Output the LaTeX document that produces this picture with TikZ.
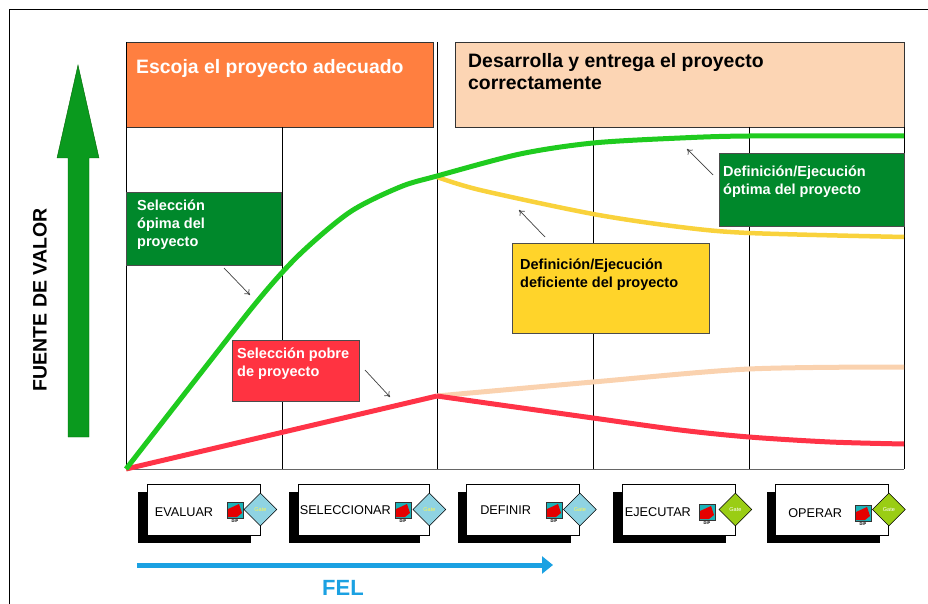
\documentclass[tikz,border=0pt]{standalone}
\usepackage{fontspec}
\setmainfont{Liberation Sans}
\usetikzlibrary{shapes.geometric,shadows,arrows.meta}
\definecolor{orangebox}{HTML}{FF7F40}
\definecolor{peachbox}{HTML}{FCD5B4}
\definecolor{darkgreen}{HTML}{00882B}
\definecolor{goldbox}{HTML}{FFD42A}
\definecolor{redbox}{HTML}{FF3341}
\definecolor{curvegreen}{HTML}{1FCB1F}
\definecolor{curvegold}{HTML}{F9D23C}
\definecolor{curvepeach}{HTML}{FAD2AF}
\definecolor{curvered}{HTML}{FF3347}
\definecolor{arrowgreen}{HTML}{0A9A1E}
\definecolor{felblue}{HTML}{1BA1E2}
\definecolor{gateblue}{HTML}{8FD3E2}
\definecolor{gatelime}{HTML}{9ACD14}
\definecolor{dipteal}{HTML}{1AB3B8}
\tikzset{
  chartline/.style={line width=0.8pt},
  curve/.style={line width=5pt, line join=round},
  labelbox/.style={draw=black!70, line width=0.8pt},
  boxtext/.style={anchor=base west, align=left, inner sep=0pt, font=\bfseries\fontsize{14.5}{18}\selectfont},
  titletext/.style={anchor=base west, align=left, inner sep=0pt, font=\bfseries\fontsize{19.4}{22}\selectfont},
  pointer/.style={draw=black!75, line width=0.7pt, -{To[length=5pt,width=7pt]}},
  stage/.style={draw, fill=white, line width=0.8pt, minimum width=113pt, minimum height=51pt, inner sep=0pt,
    drop shadow={fill=black, opacity=1, shadow xshift=-9pt, shadow yshift=-8pt}},
  stagetext/.style={anchor=west, inner sep=0pt, font=\fontsize{12.7}{14}\selectfont},
  dip/.style={draw=black!80, fill=dipteal, minimum size=16pt, inner sep=0pt,
    path picture={\fill[red!90!black] ([xshift=1pt,yshift=1pt]path picture bounding box.south west)
      -- ([xshift=1pt,yshift=-7pt]path picture bounding box.north west)
      -- ([xshift=-4pt,yshift=-2pt]path picture bounding box.north east)
      -- ([xshift=-1pt,yshift=5pt]path picture bounding box.south east)
      -- ([xshift=-6pt,yshift=1pt]path picture bounding box.south east) -- cycle;}},
  diptext/.style={inner sep=0pt, font=\bfseries\fontsize{4}{4}\selectfont},
  gate/.style={diamond, draw=black, line width=0.6pt, minimum width=33pt, minimum height=33pt, inner sep=0pt,
    font=\fontsize{5.5}{6}\selectfont}
}
\begin{document}
\begin{tikzpicture}[x=1pt,y=-1pt]
\useasboundingbox (0,0) rectangle (928,604);
\draw (9,604) -- (9,9) -- (928,9);
% value axis
\filldraw[fill=arrowgreen, draw=black!60!green] (68,437) -- (68,158) -- (57,158) -- (78,65) -- (99,158) -- (89,158) -- (89,437) -- cycle;
\node[rotate=90, font=\bfseries\fontsize{19.5}{20}\selectfont] (axis) at (40,300) {FUENTE DE VALOR};
% header boxes
\filldraw[fill=orangebox, draw=black!80] (126,42) rectangle (433,127);
\filldraw[fill=peachbox, draw=black!80] (455,42) rectangle (904,127);
\node[titletext, text=white] (choose) at (136,74) {Escoja el proyecto adecuado};
\node[titletext] (deliver) at (468,90) {Desarrolla y entrega el proyecto\\correctamente};
% phases
\draw[chartline] (126,42) to (126,469) (282,127) to (282,469) (437,42) to (437,469)
  (593,127) to (593,469) (749,127) to (749,469) (904,127) to (904,469);
\draw[chartline, black!60] (126,469) to (904,469);
% value curves
\draw[curve, curvepeach] plot[smooth] coordinates {(437,396) (593,382) (749,369) (904,367)};
\draw[curve, curvered] plot[smooth] coordinates {(437,396) (593,418) (680,430) (749,437) (830,442) (904,444)};
\draw[curve, curvered] (126,469) -- (437,396);
\draw[curve, curvegold, line width=4.5pt] plot[smooth] coordinates {(437,177) (480,190) (593,214) (680,227) (749,233) (904,237)};
\draw[curve, curvegreen] plot[smooth] coordinates {(126,469) (200,374) (260,298) (300,254) (350,212) (400,187) (437,176) (520,154) (593,143) (680,138) (749,136) (904,136)};
% labels
\filldraw[labelbox, fill=darkgreen] (126,192) rectangle (281,265);
\node[boxtext, text=white] (goodsel) at (137,246) {Selección\\ópima del\\proyecto};
\filldraw[labelbox, fill=darkgreen] (719,153) rectangle (904,226);
\node[boxtext, text=white] (goodrun) at (723,194) {Definición/Ejecución\\óptima del proyecto};
\filldraw[labelbox, fill=goldbox] (512,243) rectangle (709,333);
\node[boxtext] (poorrun) at (520,287) {Definición/Ejecución\\deficiente del proyecto};
\filldraw[labelbox, fill=redbox] (232,340) rectangle (359,401);
\node[boxtext, text=white] (poorsel) at (237,376) {Selección pobre\\de proyecto};
\coordinate (goodselfrom) at (224,268); \coordinate (goodselto) at (250,295);
\coordinate (poorselfrom) at (365,370); \coordinate (poorselto) at (390,397);
\coordinate (poorrunfrom) at (545,237); \coordinate (poorrunto) at (519,210);
\coordinate (goodrunfrom) at (713,175); \coordinate (goodrunto) at (687,149);
\draw[pointer] (goodselfrom) -- (goodselto);
\draw[pointer] (poorselfrom) -- (poorselto);
\draw[pointer] (poorrunfrom) -- (poorrunto);
\draw[pointer] (goodrunfrom) -- (goodrunto);
% stage gates
\node[stage] (evaluar) at (203.5,509.5) {};
\node[stage, minimum width=131pt] (seleccionar) at (363.5,509.5) {};
\node[stage] (definir) at (523,509.5) {};
\node[stage] (ejecutar) at (678.5,509.5) {};
\node[stage] (operar) at (832,509.5) {};
\node[stagetext] (evaluartxt) at ([xshift=8pt,yshift=-2.5pt]evaluar.west) {EVALUAR};
\node[stagetext] (seleccionartxt) at ([xshift=2pt,yshift=-1pt]seleccionar.west) {SELECCIONAR};
\node[stagetext] (definirtxt) at ([xshift=14pt,yshift=-1pt]definir.west) {DEFINIR};
\node[stagetext] (ejecutartxt) at ([xshift=3pt,yshift=-2.5pt]ejecutar.west) {EJECUTAR};
\node[stagetext] (operartxt) at ([xshift=13pt,yshift=-4pt]operar.west) {OPERAR};
\node[dip] (evaluardip) at (235,510) {};
\node[dip] (seleccionardip) at (403,510) {};
\node[dip] (definirdip) at (554,510) {};
\node[dip] (ejecutardip) at (707,512) {};
\node[dip] (operardip) at (863,513) {};
\node[diptext, below=1pt] at (evaluardip.south) {DIP};
\node[diptext, below=1pt] at (seleccionardip.south) {DIP};
\node[diptext, below=1pt] at (definirdip.south) {DIP};
\node[diptext, below=1pt] at (ejecutardip.south) {DIP};
\node[diptext, below=1pt] at (operardip.south) {DIP};
\node[gate, fill=gateblue, text=yellow!70] (evaluargate) at (evaluar.east) {Gate};
\node[gate, fill=gateblue, text=yellow!70] (seleccionargate) at (seleccionar.east) {Gate};
\node[gate, fill=gateblue, text=yellow!70] (definirgate) at (definir.east) {Gate};
\node[gate, fill=gatelime, text=white] (ejecutargate) at (ejecutar.east) {Gate};
\node[gate, fill=gatelime, text=white] (operargate) at (operar.east) {Gate};
% front end loading
\coordinate (felstart) at (137,565); \coordinate (felend) at (553,565);
\draw[felblue, line width=5pt, -{Triangle[length=11pt,width=17pt]}] (felstart) -- (felend);
\node[text=felblue, font=\bfseries\fontsize{22}{24}\selectfont] (fel) at (343,588) {FEL};
\end{tikzpicture}
\end{document}
